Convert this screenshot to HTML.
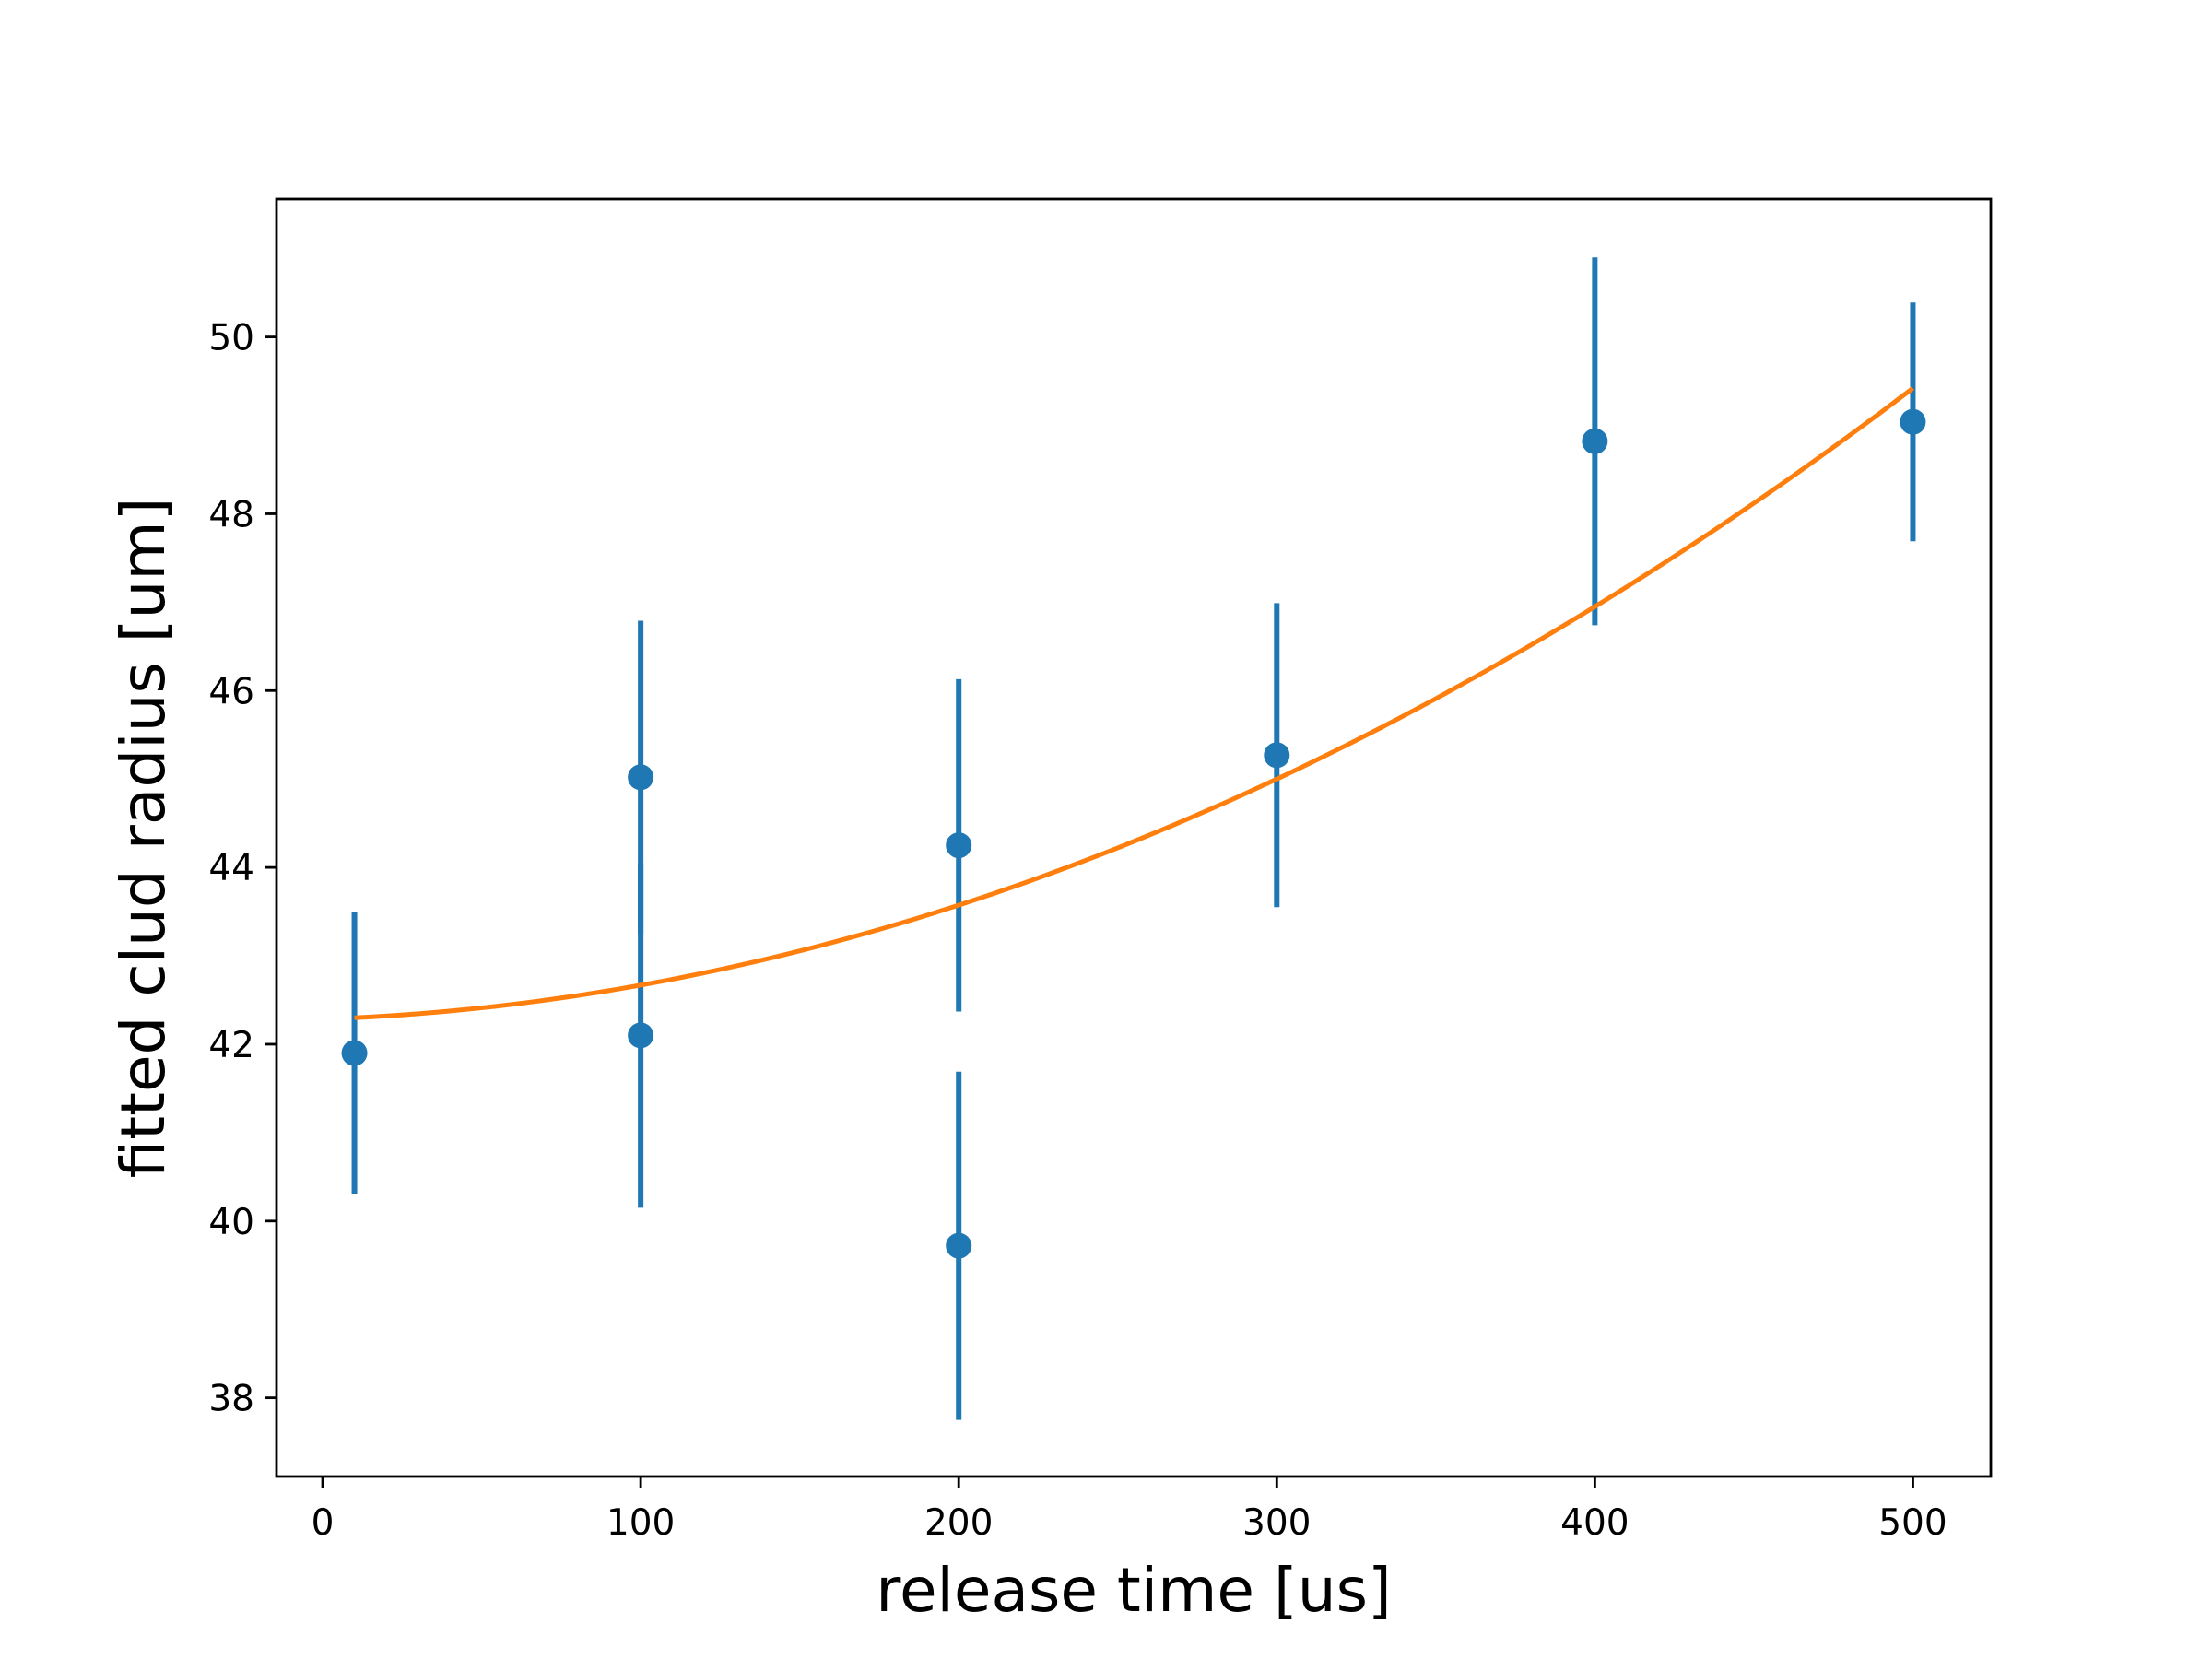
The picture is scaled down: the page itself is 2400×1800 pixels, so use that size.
<!DOCTYPE html>
<html><head><meta charset="utf-8"><style>
html,body{margin:0;padding:0;background:#fff}
svg{display:block}
text{font-family:"DejaVu Sans","Liberation Sans",sans-serif;fill:#000}
</style></head><body>
<svg id="chart" width="2400" height="1800" viewBox="0 0 2400 1800" xmlns="http://www.w3.org/2000/svg">
<rect x="0" y="0" width="2400" height="1800" fill="#fff"/>
<g id="plot"></g>
</svg>
<script>
const xs = [10, 100, 100, 200, 200, 300, 400, 500];
const ys = [41.9, 45.02, 42.1, 44.25, 39.72, 45.27, 48.82, 49.04];
const errs = [1.6, 1.77, 1.95, 1.88, 1.97, 1.72, 2.08, 1.35];
const fitCoef = [42.285, 0.00122, 0.0000261];
const xTicks = [0, 100, 200, 300, 400, 500];
const yTicks = [38, 40, 42, 44, 46, 48, 50];

const L=300,R=2160,T=216,B=1602;
const xMin=-14.5,xMax=524.5,yMin=37.11,yMax=51.56;
const sx=v=>L+(v-xMin)/(xMax-xMin)*(R-L);
const sy=v=>B-(v-yMin)/(yMax-yMin)*(B-T);
const NS="http://www.w3.org/2000/svg";
const g=document.getElementById('plot');
function mk(tag,attrs,parent){const e=document.createElementNS(NS,tag);for(const k in attrs)e.setAttribute(k,attrs[k]);(parent||g).appendChild(e);return e;}

xs.forEach((x,i)=>{
  const e=mk('line',{x1:sx(x),x2:sx(x),y1:sy(ys[i]-errs[i]),y2:sy(ys[i]+errs[i]),stroke:'#1f77b4','stroke-width':6});
  
  
});
let d='';
for(let k=0;k<=100;k++){const x=xs[0]+(xs[xs.length-1]-xs[0])*k/100;const y=fitCoef[0]+fitCoef[1]*x+fitCoef[2]*x*x;d+=(k?'L':'M')+sx(x).toFixed(2)+','+sy(y).toFixed(2);}
const fit=mk('path',{d:d,fill:'none',stroke:'#ff7f0e','stroke-width':5});


xs.forEach((x,i)=>{
  const c=mk('circle',{cx:sx(x),cy:sy(ys[i]),r:14,fill:'#1f77b4'});
  
  
});
const fr=mk('rect',{x:L,y:T,width:R-L,height:B-T,fill:'none',stroke:'#000','stroke-width':2.8});


xTicks.forEach(v=>{
  const t=mk('line',{x1:sx(v),x2:sx(v),y1:B,y2:B+13,stroke:'#000','stroke-width':2.8});
  
  
  const l=mk('text',{x:sx(v),y:B+63,'text-anchor':'middle','font-size':39});
  l.textContent=v;
  
  
});
yTicks.forEach(v=>{
  const t=mk('line',{x1:L-13,x2:L,y1:sy(v),y2:sy(v),stroke:'#000','stroke-width':2.8});
  
  
  const l=mk('text',{x:L-24,y:sy(v)+14,'text-anchor':'end','font-size':39});
  l.textContent=v;
  
  
});
const xl=mk('text',{x:(L+R)/2,y:1748,'text-anchor':'middle','font-size':66});
xl.textContent='release time [us]';


const yl=mk('text',{x:0,y:0,'text-anchor':'middle','font-size':66,transform:'translate(178,'+((T+B)/2)+') rotate(-90)'});
yl.textContent='fitted clud radius [um]';


</script>
</body></html>
